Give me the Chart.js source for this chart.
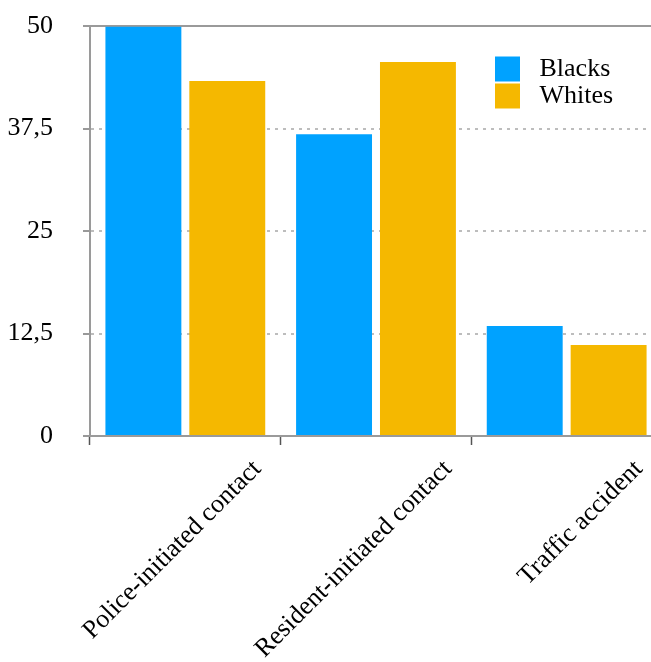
<!DOCTYPE html>
<html>
<head>
<meta charset="utf-8">
<script src="https://cdn.jsdelivr.net/npm/chart.js@4.4.1/dist/chart.umd.min.js"></script>
<style>
  html, body { margin: 0; padding: 0; background: #fff; overflow: hidden; }
  #wrap { position: absolute; left: 0; top: 0; width: 662px; height: 662px; }
</style>
</head>
<body>
<div id="wrap"><canvas id="contactChart"></canvas></div>
<script>
// Chart data
const categories = ['Police-initiated contact', 'Resident-initiated contact', 'Traffic accident'];
const blacksValues = [49.9, 36.8, 13.4];
const whitesValues = [43.3, 45.6, 11.1];
const yTicks = [0, 12.5, 25, 37.5, 50];

Chart.defaults.font.family = "'Liberation Serif', 'Times New Roman', serif";
Chart.defaults.font.size = 26;
Chart.defaults.color = '#000';

// Move the legend into the top right corner of the plot
const legendPlacer = {
    id: 'legendPlacer',
    afterLayout(chart) {
        chart.legend.left = 494;
        chart.legend.top = 55;
    }
};

const isTop = ctx => ctx.tick && ctx.tick.value === 50;

const ctx = document.getElementById('contactChart').getContext('2d');
const contactChart = new Chart(ctx, {
    type: 'bar',
    data: {
        labels: categories,
        datasets: [{
            label: 'Blacks',
            data: blacksValues,
            backgroundColor: '#00a2ff'
        }, {
            label: 'Whites',
            data: whitesValues,
            backgroundColor: '#f5b800'
        }]
    },
    options: {
        responsive: true,
        maintainAspectRatio: false,
        animation: false,
        categoryPercentage: 0.88,
        barPercentage: 0.905,
        layout: {
            padding: { top: 26, right: 0, bottom: 0, left: 0 }
        },
        plugins: {
            legend: {
                position: 'chartArea',
                align: 'start',
                padding: 0,
                labels: {
                    boxWidth: 25,
                    boxHeight: 25,
                    padding: 1,
                    color: '#000',
                    // a little more room between swatch and text
                    generateLabels: chart => Chart.defaults.plugins.legend.labels.generateLabels(chart)
                        .map(item => Object.assign(item, { text: ' ' + item.text }))
                }
            },
            tooltip: { enabled: false }
        },
        scales: {
            x: {
                offset: true,
                grid: {
                    offset: true,
                    drawOnChartArea: false,
                    drawTicks: true,
                    tickLength: 9,
                    tickColor: '#555',
                    tickWidth: 1.5
                },
                border: { color: '#9a9a9a', width: 2 },
                ticks: {
                    maxRotation: 45,
                    minRotation: 45,
                    labelOffset: 72,
                    padding: 9
                },
                afterFit: scale => {
                    scale.height = 226;
                    scale.paddingLeft = 0;
                    scale.paddingRight = 0;
                }
            },
            y: {
                min: 0,
                max: 50,
                afterBuildTicks: axis => {
                    axis.ticks = yTicks.map(v => ({ value: v }));
                },
                grid: {
                    color: ctx => isTop(ctx) ? '#9a9a9a' : '#bdbdbd',
                    lineWidth: 2,
                    tickLength: 7,
                    tickColor: '#777',
                    tickWidth: 1.5
                },
                border: {
                    color: '#9a9a9a',
                    width: 2,
                    dash: ctx => (ctx.type === 'tick' && !isTop(ctx)) ? [3, 5] : []
                },
                ticks: {
                    padding: 30,
                    callback: v => String(v).replace('.', ',')
                },
                afterFit: scale => {
                    scale.width = 90;
                    scale.paddingTop = 0;
                    scale.paddingBottom = 0;
                }
            }
        }
    },
    plugins: [legendPlacer]
});
</script>
</body>
</html>
